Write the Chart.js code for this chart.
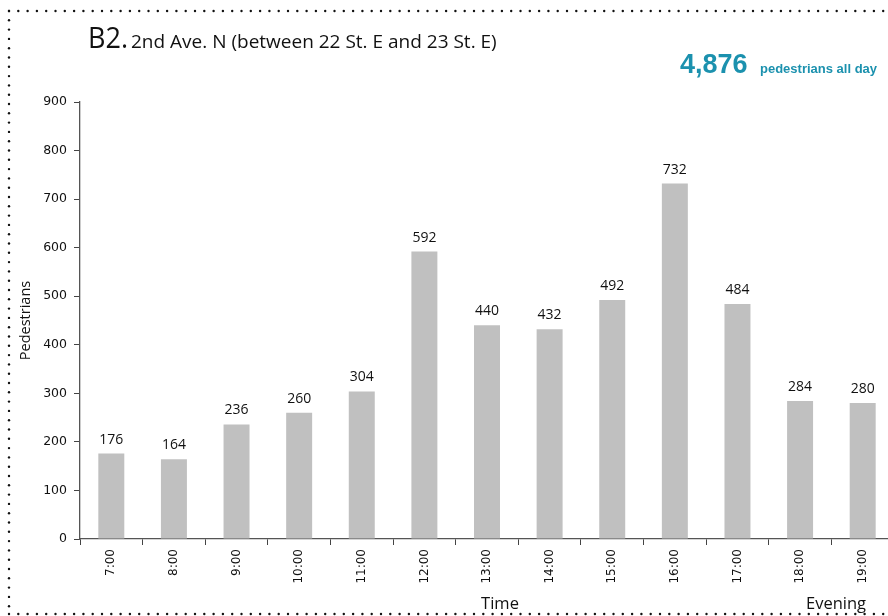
<!DOCTYPE html>
<html>
<head>
<meta charset="utf-8">
<script src="https://cdn.jsdelivr.net/npm/chart.js@4"></script>
<style>
  html, body { margin: 0; padding: 0; background: #fff; overflow: hidden; }
  #wrap { position: relative; width: 900px; height: 616px; }
</style>
</head>
<body>
<div id="wrap"><canvas id="countChart" width="900" height="616"></canvas></div>
<script>
var hours = ['7:00', '8:00', '9:00', '10:00', '11:00', '12:00', '13:00', '14:00', '15:00', '16:00', '17:00', '18:00', '19:00'];
var pedestrians = [176, 164, 236, 260, 304, 592, 440, 432, 492, 732, 484, 284, 280];
var yTicks = [0, 100, 200, 300, 400, 500, 600, 700, 800, 900];

var total = pedestrians.reduce(function (a, b) { return a + b; }, 0);

// dotted frame, titles, bar values
var extras = {
    id: 'extras',
    beforeDraw: function (chart) {
        var ctx = chart.ctx;
        ctx.save();
        ctx.fillStyle = '#111';
        var x, y;
        for (x = 9; x < 900; x += 9.3) {
            ctx.beginPath(); ctx.arc(x, 11, 1.2, 0, Math.PI * 2); ctx.fill();
            ctx.beginPath(); ctx.arc(x, 614, 1.2, 0, Math.PI * 2); ctx.fill();
        }
        for (y = 11; y < 614; y += 9.3) {
            ctx.beginPath(); ctx.arc(9, y, 1.2, 0, Math.PI * 2); ctx.fill();
        }
        ctx.restore();
    },
    afterDraw: function (chart) {
        var ctx = chart.ctx;
        ctx.save();
        ctx.fillStyle = '#111';
        ctx.textBaseline = 'alphabetic';
        ctx.textAlign = 'left';
        ctx.font = '30px "Open Sans"';
        ctx.fillText('B2.', 88, 48, 40);
        ctx.font = '19px "Open Sans"';
        ctx.fillText('2nd Ave. N (between 22 St. E and 23 St. E)', 131, 48, 369);

        ctx.fillStyle = '#1b91ae';
        ctx.font = 'bold 27px "Liberation Sans"';
        ctx.fillText(total.toLocaleString('en-US'), 680, 73, 73);
        ctx.font = 'bold 13px "Liberation Sans"';
        ctx.fillText('pedestrians all day', 760, 73, 118);

        ctx.fillStyle = '#111';
        ctx.font = '16.5px "Open Sans"';
        ctx.textAlign = 'center';
        ctx.fillText('Time', 500, 609);
        ctx.fillText('Evening', 836, 609);

        ctx.font = '14px "Open Sans"';
        var meta = chart.getDatasetMeta(0);
        meta.data.forEach(function (bar, i) {
            ctx.fillText(pedestrians[i], bar.x, bar.y - 10, 24);
        });
        ctx.restore();
    }
};

var ctx = document.getElementById('countChart').getContext('2d');
var chart = new Chart(ctx, {
    type: 'bar',
    data: {
        labels: hours,
        datasets: [{
            data: pedestrians,
            backgroundColor: '#c0c0c0',
            borderWidth: 0,
            barPercentage: 0.415,
            categoryPercentage: 1
        }]
    },
    options: {
        responsive: false,
        animation: false,
        layout: { padding: { top: 102, right: 6, left: 0, bottom: 0 } },
        plugins: {
            legend: { display: false },
            tooltip: { enabled: false }
        },
        scales: {
            x: {
                afterFit: function (s) { s.height = 77; },
                grid: {
                    display: true,
                    drawOnChartArea: false,
                    drawTicks: true,
                    tickLength: 6,
                    offset: true,
                    color: '#444'
                },
                border: { color: '#555', width: 1.3 },
                ticks: {
                    minRotation: 90,
                    maxRotation: 90,
                    padding: 4,
                    color: '#111',
                    font: { family: 'DejaVu Sans', size: 12 }
                }
            },
            y: {
                min: 0,
                max: 900,
                afterFit: function (s) { s.width = 80; },
                afterBuildTicks: function (s) {
                    s.ticks = yTicks.map(function (v) { return { value: v }; });
                },
                grid: {
                    display: true,
                    drawOnChartArea: false,
                    drawTicks: true,
                    tickLength: 6,
                    color: '#444'
                },
                border: { color: '#555', width: 1.3 },
                title: {
                    display: true,
                    text: 'Pedestrians',
                    color: '#111',
                    padding: { top: 17, bottom: 0 },
                    font: { family: 'Open Sans', size: 14.5 }
                },
                ticks: {
                    padding: 7,
                    color: '#111',
                    font: { family: 'DejaVu Sans', size: 12.5 }
                }
            }
        }
    },
    plugins: [extras]
});
</script>
</body>
</html>
